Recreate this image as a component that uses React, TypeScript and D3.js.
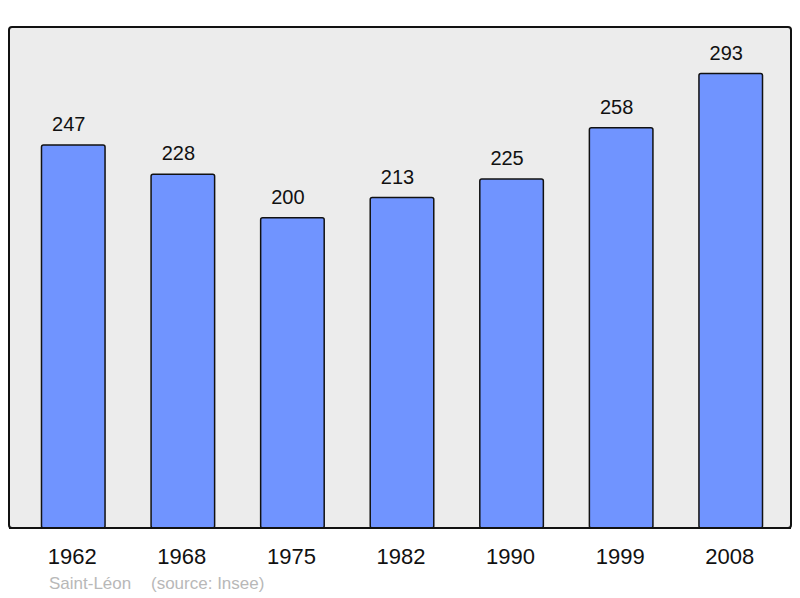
import React from 'react';
import * as d3 from 'd3';

const years = ['1962', '1968', '1975', '1982', '1990', '1999', '2008'];
const population = [247, 228, 200, 213, 225, 258, 293];
const townName = 'Saint-Léon';
const sourceNote = '(source: Insee)';

const W = 800;
const H = 598;
const frame = { left: 9, top: 27, right: 791, bottom: 528 };

const App: React.FC = () => {
	const x = d3
		.scaleBand<string>()
		.domain(years)
		.range([frame.left + 4, frame.right])
		.paddingInner(0.42)
		.paddingOuter(0.26);

	const y = d3
		.scaleLinear()
		.domain([0, 323])
		.range([frame.bottom, frame.top]);

	const font = '"Liberation Sans", Arial, sans-serif';

	return (
		<svg
			width={W}
			height={H}
			style={{ position: 'absolute', left: 0, top: 0, display: 'block' }}
			fontFamily={font}>
			<rect width={W} height={H} fill='#ffffff' />
			<rect
				x={frame.left}
				y={frame.top}
				width={frame.right - frame.left}
				height={frame.bottom - frame.top}
				rx={3}
				fill='#ececec'
				stroke='#111'
				strokeWidth={2}
			/>
			{population.map((v, i) => {
				const bx = x(years[i]) ?? 0;
				const top = y(v);
				return (
					<g key={years[i]}>
						<rect
							x={bx}
							y={top}
							width={x.bandwidth()}
							height={frame.bottom - top}
							rx={2}
							fill='#7094ff'
							stroke='#111'
							strokeWidth={1.5}
						/>
						<text
							x={bx + x.bandwidth() / 2 - 4.5}
							y={top - 14}
							textAnchor='middle'
							fontSize={20}
							fill='#111'>
							{v}
						</text>
					</g>
				);
			})}
			{/* redraw baseline over the bars */}
			<line
				x1={frame.left}
				x2={frame.right}
				y1={frame.bottom}
				y2={frame.bottom}
				stroke='#111'
				strokeWidth={2}
			/>
			{years.map((yr) => (
				<text
					key={yr}
					x={(x(yr) ?? 0) + x.bandwidth() / 2 - 1}
					y={564}
					textAnchor='middle'
					fontSize={22}
					fill='#111'>
					{yr}
				</text>
			))}
			<text x={49} y={589} fontSize={17} fill='#b8b8b8'>
				{townName}
			</text>
			<text x={151} y={589} fontSize={17} fill='#b8b8b8'>
				{sourceNote}
			</text>
		</svg>
	);
};

export default App;
